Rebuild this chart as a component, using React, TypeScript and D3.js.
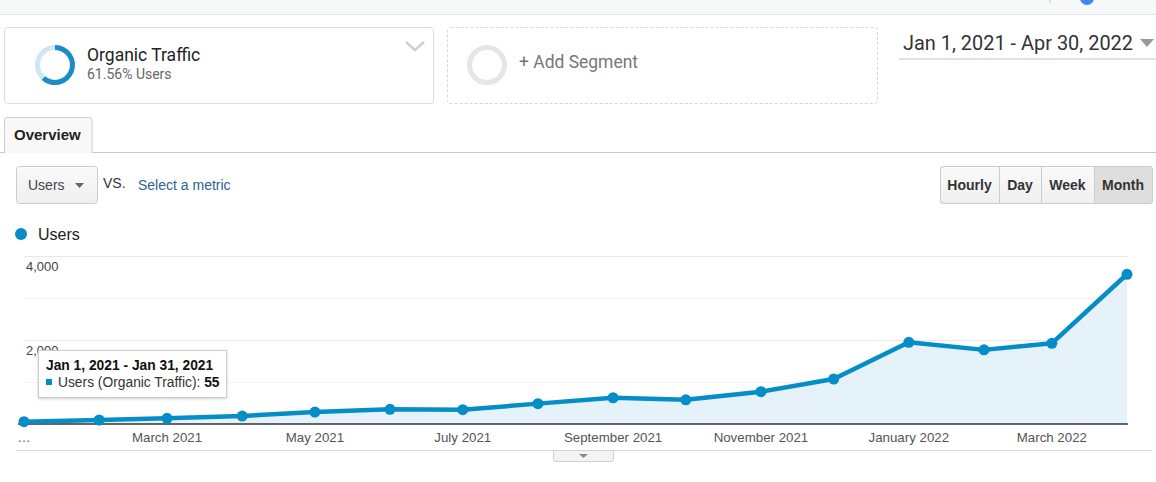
import React from "react";
import * as d3 from "d3";

const months: string[] = [
  "2021-01-01", "2021-02-01", "2021-03-01", "2021-04-01", "2021-05-01", "2021-06-01",
  "2021-07-01", "2021-08-01", "2021-09-01", "2021-10-01", "2021-11-01", "2021-12-01",
  "2022-01-01", "2022-02-01", "2022-03-01", "2022-04-01",
];
const users: number[] = [55, 95, 135, 190, 285, 350, 340, 485, 625, 575, 770, 1070, 1945, 1765, 1920, 3565];
const yGrid: number[] = [0, 1000, 2000, 3000, 4000];
const yLabels: number[] = [2000, 4000];
const xTickDates: string[] = ["2021-03-01", "2021-05-01", "2021-07-01", "2021-09-01", "2021-11-01", "2022-01-01", "2022-03-01"];
const xTickLabels: string[] = ["March 2021", "May 2021", "July 2021", "September 2021", "November 2021", "January 2022", "March 2022"];
const segmentShare = 0.6156;

const BLUE = "#058dc7";
const ARIAL = "Arial, 'Liberation Sans', sans-serif";
const ROBOTO = "Roboto, 'Noto Sans', sans-serif";

export default function App() {
  const parse = d3.utcParse("%Y-%m-%d");
  const dates = months.map((m) => parse(m) as Date);
  const x = d3.scaleUtc().domain([dates[0], dates[dates.length - 1]]).range([24, 1127]);
  const y = d3.scaleLinear().domain([0, 4000]).range([424, 256]);
  const data = dates.map((d, i) => ({ d, v: users[i] }));

  const line = d3.line<{ d: Date; v: number }>().x((p) => x(p.d)).y((p) => y(p.v));
  const area = d3
    .area<{ d: Date; v: number }>()
    .x((p) => x(p.d))
    .y0(y(0))
    .y1((p) => y(p.v));

  const arc = d3.arc();
  const donutBg = arc({ innerRadius: 15, outerRadius: 20, startAngle: 0, endAngle: Math.PI * 2 }) || "";
  const donutFg = arc({ innerRadius: 15, outerRadius: 20, startAngle: 0, endAngle: Math.PI * 2 * segmentShare }) || "";
  const fmt = d3.format(",");

  const buttons = [
    { label: "Hourly", x0: 940, x1: 999 },
    { label: "Day", x0: 999, x1: 1041 },
    { label: "Week", x0: 1041, x1: 1094 },
    { label: "Month", x0: 1094, x1: 1152, active: true },
  ];

  return (
    <svg
      width={1156}
      height={482}
      style={{ position: "absolute", left: 0, top: 0, background: "#fff" }}
    >
      <defs>
        <filter id="sh" x="-10%" y="-20%" width="120%" height="150%">
          <feDropShadow dx="0" dy="1" stdDeviation="1.5" floodColor="#000" floodOpacity="0.18" />
        </filter>
        <linearGradient id="btn" x1="0" y1="0" x2="0" y2="1">
          <stop offset="0" stopColor="#fafafa" />
          <stop offset="1" stopColor="#efefef" />
        </linearGradient>
      </defs>
      {/* top strip */}
      <rect x={0} y={0} width={1156} height={14} fill="#f7f8fa" />
      <line x1={0} x2={1156} y1={14.5} y2={14.5} stroke="#e3e5e8" />
      <circle cx={1087} cy={-2} r={7} fill="#4285f4" />
      <line x1={1050} x2={1050} y1={0} y2={3} stroke="#ccc" />

      {/* segment 1 */}
      <rect x={4.5} y={27.5} width={429} height={76} rx={3} fill="#fff" stroke="#dcdcdc" />
      <g transform="translate(55,65)">
        <path d={donutBg} fill="#cfe6f4" />
        <path d={donutFg} fill="#1a8dc6" />
      </g>
      <text x={87} y={61} fontFamily={ROBOTO} fontSize={17.5} fill="#222">Organic Traffic</text>
      <text x={87} y={79} fontFamily={ROBOTO} fontSize={14} fill="#666">61.56% Users</text>
      <path d="M406,42 L415,50 L424,42" fill="none" stroke="#d0d0d0" strokeWidth={2.5} />

      {/* segment 2 */}
      <rect x={447.5} y={27.5} width={430} height={76} rx={3} fill="#fff" stroke="#d8d8d8" strokeDasharray="3,2" />
      <circle cx={487} cy={65} r={17.5} fill="none" stroke="#e6e6e6" strokeWidth={5} />
      <text x={519} y={68} fontFamily={ROBOTO} fontSize={18} fill="#777" textLength={119} lengthAdjust="spacingAndGlyphs">+ Add Segment</text>

      {/* date range */}
      <text x={903} y={50} fontFamily={ROBOTO} fontSize={19.5} fill="#333" textLength={230} lengthAdjust="spacingAndGlyphs">Jan 1, 2021 - Apr 30, 2022</text>
      <path d="M1140,39 L1154,39 L1147,47 Z" fill="#999" />
      <line x1={899} x2={1156} y1={59} y2={59} stroke="#e0e0e0" strokeWidth={2} />

      {/* overview tab */}
      <line x1={0} x2={1156} y1={152.5} y2={152.5} stroke="#c8c8c8" />
      <path d="M4.5,153 L4.5,120 Q4.5,117.5 7,117.5 L89.5,117.5 Q92,117.5 92,120 L92,153" fill="#f8f8f8" stroke="#cfcfcf" />
      <text x={14} y={140} fontFamily={ARIAL} fontSize={15} fontWeight="bold" fill="#222">Overview</text>

      {/* metric selector */}
      <rect x={16.5} y={166.5} width={81} height={37} rx={3} fill="url(#btn)" stroke="#cccccc" />
      <text x={28} y={190} fontFamily={ARIAL} fontSize={14} fill="#444">Users</text>
      <path d="M75,183 L84,183 L79.5,188 Z" fill="#666" />
      <text x={103} y={188} fontFamily={ARIAL} fontSize={14} fill="#333">VS.</text>
      <text x={138} y={190} fontFamily={ARIAL} fontSize={14} fill="#2d6293">Select a metric</text>

      {/* time buttons */}
      <rect x={940.5} y={166.5} width={212} height={37} rx={3} fill="url(#btn)" stroke="#cccccc" />
      {buttons.map((b) => (
        <g key={b.label}>
          {b.active && <rect x={b.x0 + 0.5} y={167} width={b.x1 - b.x0 - 0.5} height={36} fill="#dedede" />}
          {b.x0 > 940 && <line x1={b.x0 + 0.5} x2={b.x0 + 0.5} y1={167} y2={203} stroke="#cccccc" />}
          <text x={(b.x0 + b.x1) / 2} y={190} textAnchor="middle" fontFamily={ARIAL} fontSize={14} fontWeight="bold" fill="#333">
            {b.label}
          </text>
        </g>
      ))}
      <rect x={940.5} y={166.5} width={212} height={37} rx={3} fill="none" stroke="#cccccc" />

      {/* legend */}
      <circle cx={21} cy={234} r={6} fill={BLUE} />
      <text x={38} y={240} fontFamily={ARIAL} fontSize={16} fill="#222">Users</text>

      {/* grid */}
      {yGrid.slice(1).map((g) => (
        <line key={g} x1={24} x2={1128} y1={Math.round(y(g)) + 0.5} y2={Math.round(y(g)) + 0.5} stroke={g % 2000 === 0 ? "#e8e8e8" : "#f3f3f3"} />
      ))}
      {yLabels.map((t) => (
        <text key={t} x={26} y={y(t) + 15} fontFamily={ARIAL} fontSize={13} fill="#444">{fmt(t)}</text>
      ))}

      {/* area + line */}
      <path d={area(data) || ""} fill="#e5f2f9" />
      <line x1={18} x2={1128} y1={424} y2={424} stroke="#333" strokeWidth={1.5} />
      <path d={line(data) || ""} fill="none" stroke={BLUE} strokeWidth={4.5} strokeLinejoin="round" />
      {data.map((p, i) => (
        <circle key={i} cx={x(p.d)} cy={y(p.v)} r={5.5} fill={BLUE} />
      ))}

      {/* x axis labels */}
      <text x={24} y={442} textAnchor="middle" fontFamily={ARIAL} fontSize={13} fill="#555">…</text>
      {xTickDates.map((t, i) => (
        <text key={t} x={x(parse(t) as Date)} y={442} textAnchor="middle" fontFamily={ARIAL} fontSize={13.3} fill="#555">
          {xTickLabels[i]}
        </text>
      ))}
      <line x1={16} x2={1152} y1={450.5} y2={450.5} stroke="#d5d5d5" />
      <path d="M553.5,451 L553.5,459 Q553.5,461.5 556,461.5 L611,461.5 Q613.5,461.5 613.5,459 L613.5,451" fill="#f3f3f3" stroke="#d0d0d0" />
      <path d="M579,454 L588,454 L583.5,458 Z" fill="#888" />

      {/* tooltip */}
      <rect x={38.5} y={350.5} width={188} height={47} fill="#fff" stroke="#cccccc" filter="url(#sh)" />
      <text x={46} y={370} fontFamily={ARIAL} fontSize={13.8} fontWeight="bold" fill="#111">Jan 1, 2021 - Jan 31, 2021</text>
      <rect x={46} y={379} width={6} height={6} fill={BLUE} />
      <text x={58} y={387} fontFamily={ARIAL} fontSize={13.8} fill="#333">
        Users (Organic Traffic): <tspan fontWeight="bold" fill="#111">{users[0]}</tspan>
      </text>
    </svg>
  );
}
